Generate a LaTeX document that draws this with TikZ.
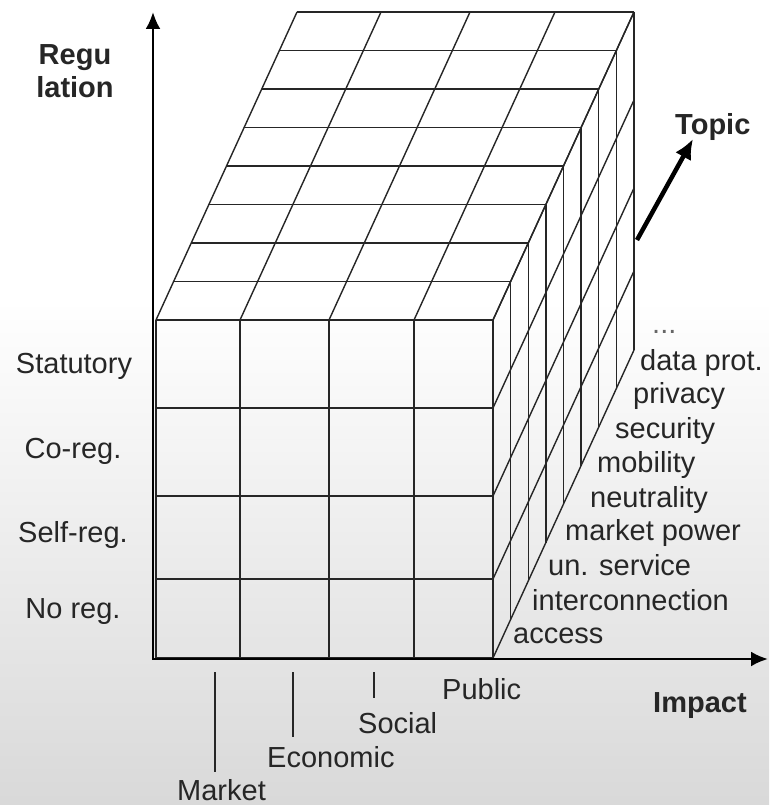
\documentclass[tikz,border=0pt]{standalone}
\usepackage{fontspec}
\setmainfont{Liberation Sans}
\usetikzlibrary{arrows.meta}

\begin{document}
\begin{tikzpicture}[x=1pt,y=-1pt,
grid/.style={line width=1.4pt,black!85},
axis/.style={line width=2.6pt,{Latex[length=17pt,width=15pt]}-{Latex[length=17pt,width=15pt]}},
lbl/.style={font=\fontsize{29}{33}\selectfont,inner sep=0pt,text=black!85},
toplbl/.style={lbl,anchor=base west},
regl/.style={lbl,anchor=base},
tickl/.style={line width=1.3pt,black!85}]
\useasboundingbox (0,0) rectangle (769,805);
\fill[white] (0,0) rectangle (769,300);
\shade[top color=white,bottom color=black!15] (0,300) rectangle (769,805);
% front face and top columns
\foreach \c in {156,240,329,414,493} {
\draw[grid] (\c,320) -- (\c,658);
\draw[grid] (\c,320) -- ++(141,-308);
}
% rows on front and side
\foreach \r in {320,408,496,579,658} {
\draw[grid] (156,\r) -- (493,\r);
\draw[grid] (493,\r) -- ++(141,-308);
}
% depth layers
\foreach \k in {1,...,8} {
\pgfmathsetmacro\dx{141*\k/8}
\pgfmathsetmacro\dy{308*\k/8}
\draw[grid] (156+\dx,320-\dy) -- (493+\dx,320-\dy);
\draw[grid] (493+\dx,320-\dy) -- (493+\dx,658-\dy);
}
\coordinate (ytip) at (153,12);
\coordinate (xtip) at (768,659);
\draw[axis] (ytip) |- (xtip);
\node [lbl,font=\fontsize{29}{33}\selectfont\bfseries,align=center,anchor=north] (reg) at (75,44) {Regu\\lation};
\node [regl] (stat) at (74,373) {Statutory};
\node [regl] (coreg) at (73,458) {Co-reg.};
\node [regl] (selfreg) at (73,542) {Self-reg.};
\node [regl] (noreg) at (73,618) {No reg.};
\node [toplbl,text=black!60] (more) at (652,333) {...};
\node [toplbl] (dprot) at (640,370) {data prot.};
\node [toplbl] (priv) at (633,403) {privacy};
\node [toplbl] (sec) at (615,438) {security};
\node [toplbl] (mob) at (597,472) {mobility};
\node [toplbl] (neut) at (590,507) {neutrality};
\node [toplbl] (mpow) at (565,540) {market power};
\node [toplbl] (unserv) at (548,575) {un. service};
\node [toplbl] (inter) at (532,610) {interconnection};
\node [toplbl] (acc) at (513,643) {access};
\node [toplbl,font=\fontsize{29}{33}\selectfont\bfseries] (topic) at (675,135) {Topic};
\coordinate (tstart) at (637,240);
\coordinate (ttip) at (693,139);
\draw[line width=4.5pt,-{Latex[length=20pt,width=18pt]}] (tstart) -- (ttip);
\node [toplbl] (mkt) at (177,800) {Market};
\node [toplbl] (econ) at (267,767) {Economic};
\node [toplbl] (soc) at (358,733) {Social};
\node [toplbl] (pub) at (442,699) {Public};
\node [toplbl,font=\fontsize{29}{33}\selectfont\bfseries] (imp) at (653,712) {Impact};
\coordinate (mkt1) at (215,672);
\coordinate (mkt2) at (215,772);
\coordinate (econ1) at (293,672);
\coordinate (econ2) at (293,737);
\coordinate (soc1) at (374,672);
\coordinate (soc2) at (374,698);
\draw[tickl] (mkt1) -- (mkt2);
\draw[tickl] (econ1) -- (econ2);
\draw[tickl] (soc1) -- (soc2);
\end{tikzpicture}
\end{document}
